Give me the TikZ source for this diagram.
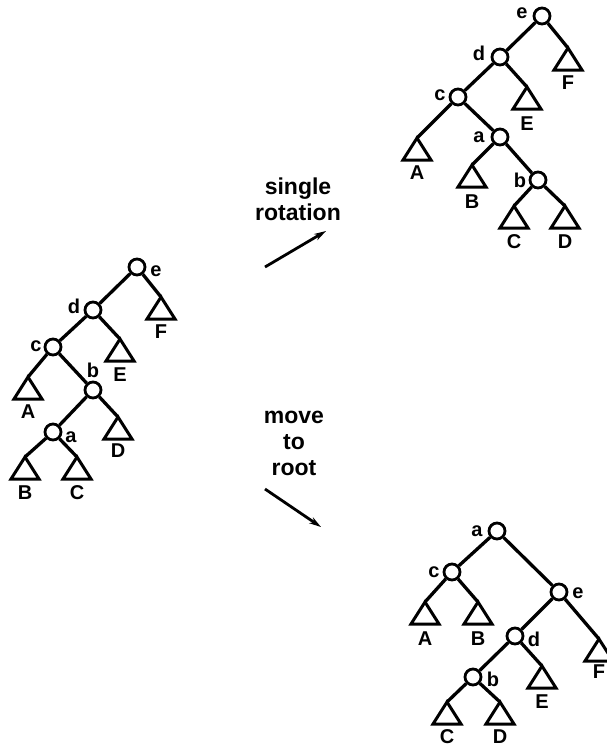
\documentclass[tikz,border=0pt]{standalone}
\usepackage{fontspec}
\setmainfont{Liberation Sans}
\usetikzlibrary{arrows.meta}

% a subtree drawn as a triangle hanging from its apex, with its letter below
% #1 name, #2 x, #3 y of the apex, #4 letter, #5 drop of the letter
\newcommand\leaftri[5]{%
  \coordinate (#1) at (#2,#3);
  \draw[tri] (#1) -- ++(-14,22) -- ++(28,0) -- cycle;
  \node[lbl] (#1-t) at (#2,#3+#5) {#4};}

\begin{document}
\begin{tikzpicture}[x=1pt,y=-1pt,
  vert/.style={circle,draw,line width=2.8pt,minimum size=16pt,inner sep=0pt,fill=white},
  edge/.style={line width=3.3pt},
  tri/.style={line width=3pt,line join=miter},
  lbl/.style={font=\fontsize{20}{20}\selectfont\bfseries,inner sep=0pt},
  opname/.style={font=\fontsize{23}{26}\selectfont\bfseries,inner sep=0pt,align=center},
  mover/.style={line width=2.8pt,-{Stealth[length=12pt,width=7pt]}}]
\useasboundingbox (0,0) rectangle (607,748);

% ---- original tree ----
\node[vert] (le) at (137,267) {};
\node[vert] (ld) at (93,310) {};
\node[vert] (lc) at (53,347) {};
\node[vert] (lb) at (93,390) {};
\node[vert] (la) at (53,432) {};
\node[lbl] (le-t) at (156,271) {e};
\node[lbl] (ld-t) at (74,306) {d};
\node[lbl] (lc-t) at (36,346) {c};
\node[lbl] (lb-t) at (93,370) {b};
\node[lbl] (la-t) at (71,437) {a};
\leaftri{lF}{161}{297}{F}{35}
\leaftri{lE}{120}{339}{E}{36}
\leaftri{lA}{28}{377}{A}{35}
\leaftri{lD}{118}{417}{D}{34}
\leaftri{lB}{25}{457}{B}{36}
\leaftri{lC}{77}{457}{C}{36}
\draw[edge] (le) -- (ld) (le) -- (lF) (ld) -- (lc) (ld) -- (lE)
            (lc) -- (lA) (lc) -- (lb) (lb) -- (la) (lb) -- (lD)
            (la) -- (lB) (la) -- (lC);

% ---- after a single rotation ----
\node[vert] (re) at (542,16) {};
\node[vert] (rd) at (500,57) {};
\node[vert] (rc) at (458,97) {};
\node[vert] (ra) at (500,137) {};
\node[vert] (rb) at (538,180) {};
\node[lbl] (re-t) at (522,13) {e};
\node[lbl] (rd-t) at (479,53) {d};
\node[lbl] (rc-t) at (440,95) {c};
\node[lbl] (ra-t) at (479,137) {a};
\node[lbl] (rb-t) at (520,180) {b};
\leaftri{rF}{568}{48}{F}{35}
\leaftri{rE}{527}{87}{E}{37}
\leaftri{rA}{417}{138}{A}{35}
\leaftri{rB}{472}{165}{B}{37}
\leaftri{rC}{514}{206}{C}{36}
\leaftri{rD}{565}{206}{D}{36}
\draw[edge] (re) -- (rd) (re) -- (rF) (rd) -- (rc) (rd) -- (rE)
            (rc) -- (rA) (rc) -- (ra) (ra) -- (rB) (ra) -- (rb)
            (rb) -- (rC) (rb) -- (rD);

% ---- after move to root ----
\node[vert] (ba) at (497,531) {};
\node[vert] (bc) at (452,572) {};
\node[vert] (be) at (559,592) {};
\node[vert] (bd) at (515,636) {};
\node[vert] (bb) at (473,677) {};
\node[lbl] (ba-t) at (477,531) {a};
\node[lbl] (bc-t) at (434,572) {c};
\node[lbl] (be-t) at (578,593) {e};
\node[lbl] (bd-t) at (534,639) {d};
\node[lbl] (bb-t) at (493,679) {b};
\leaftri{bA}{425}{602}{A}{37}
\leaftri{bB}{478}{602}{B}{37}
\leaftri{bF}{599}{639}{F}{33}
\leaftri{bE}{542}{666}{E}{36}
\leaftri{bC}{447}{702}{C}{35}
\leaftri{bD}{500}{702}{D}{35}
\draw[edge] (ba) -- (bc) (ba) -- (be) (bc) -- (bA) (bc) -- (bB)
            (be) -- (bd) (be) -- (bF) (bd) -- (bb) (bd) -- (bE)
            (bb) -- (bC) (bb) -- (bD);

% ---- transformation arrows ----
\node[opname] (rotcap) at (298,199) {single\\rotation};
\coordinate (rot0) at (265,267);
\coordinate (rot1) at (326,231);
\draw[mover] (rot0) -- (rot1);
\node[opname] (mtrcap) at (294,443) {move\\to\\root};
\coordinate (mtr0) at (265,489);
\coordinate (mtr1) at (321,527);
\draw[mover] (mtr0) -- (mtr1);
\end{tikzpicture}
\end{document}
